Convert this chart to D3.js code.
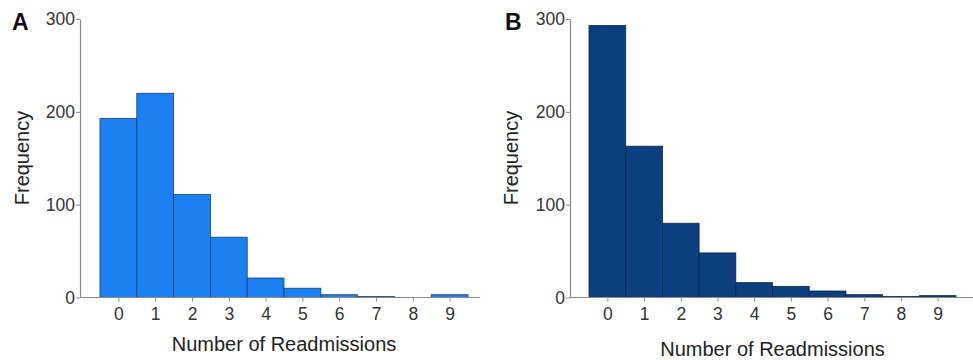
<!DOCTYPE html>
<html>
<head>
<meta charset="utf-8">
<script src="https://cdn.jsdelivr.net/npm/d3@7"></script>
<style>
  body { margin: 0; background: #fff; }
  svg { display: block; font-family: "Liberation Sans", Arial, sans-serif; }
  .tick text { fill: #333; font-size: 17.5px; }
  .tick line { stroke: #888; }
</style>
</head>
<body>
<svg id="chart" width="973" height="360"></svg>
<script>
// readmission counts (x categories) and frequencies per panel
const readmissions = [0, 1, 2, 3, 4, 5, 6, 7, 8, 9];
const freqA = [193, 220, 111, 65, 21, 10, 3, 1, 0, 3];
const freqB = [293, 163, 80, 48, 16, 12, 7, 3, 1, 2];
const yTicks = [0, 100, 200, 300];

const svg = d3.select("#chart");

const panels = [
  { label: "A", data: freqA, axisX: 80, barL: 100, barR: 468, axisEnd: 480,
    fill: "#1b80f2", stroke: "#1d3d6b", labX: 12, freqX: 22, titleY: 351 },
  { label: "B", data: freqB, axisX: 570, barL: 589, barR: 956, axisEnd: 973,
    fill: "#0b3f80", stroke: "#0a2547", labX: 505, freqX: 511, titleY: 356 }
];

const y = d3.scaleLinear().domain([0, 300]).range([297.5, 19]);

panels.forEach(p => {
  const g = svg.append("g");
  const x = d3.scaleLinear().domain([-0.5, 9.5]).range([p.barL, p.barR]);
  const w = x(1) - x(0);

  g.selectAll("rect")
    .data(p.data)
    .enter()
    .append("rect")
    .attr("x", (d, i) => x(readmissions[i] - 0.5))
    .attr("width", w)
    .attr("y", d => y(d))
    .attr("height", d => y(0) - y(d))
    .attr("fill", p.fill)
    .attr("stroke", p.stroke)
    .attr("stroke-width", 0.8);

  // y axis
  const ya = g.append("g")
    .attr("transform", `translate(${p.axisX},0)`)
    .call(d3.axisLeft(y).tickValues(yTicks).tickSize(4).tickSizeOuter(0).tickPadding(1));
  ya.select(".domain").attr("stroke", "#888").attr("stroke-width", 1.2);

  // x axis
  const xa = g.append("g")
    .attr("transform", `translate(0,${y(0)})`)
    .call(d3.axisBottom(x).tickValues(readmissions).tickSize(4).tickPadding(6).tickFormat(d3.format("d")));
  xa.select(".domain").remove();
  g.append("line")
    .attr("x1", p.axisX).attr("x2", p.axisEnd)
    .attr("y1", y(0)).attr("y2", y(0))
    .attr("stroke", "#888").attr("stroke-width", 1.2);

  // panel letter
  g.append("text")
    .attr("x", p.labX).attr("y", 30)
    .attr("font-weight", "bold").attr("font-size", 23)
    .attr("fill", "#111")
    .text(p.label);

  // axis titles
  g.append("text")
    .attr("x", (p.barL + p.barR) / 2).attr("y", p.titleY)
    .attr("text-anchor", "middle").attr("font-size", 20).attr("fill", "#222")
    .text("Number of Readmissions");

  g.append("text")
    .attr("transform", `translate(${p.freqX + 7},158) rotate(-90)`)
    .attr("text-anchor", "middle").attr("font-size", 20).attr("fill", "#222")
    .text("Frequency");
});
</script>
</body>
</html>
